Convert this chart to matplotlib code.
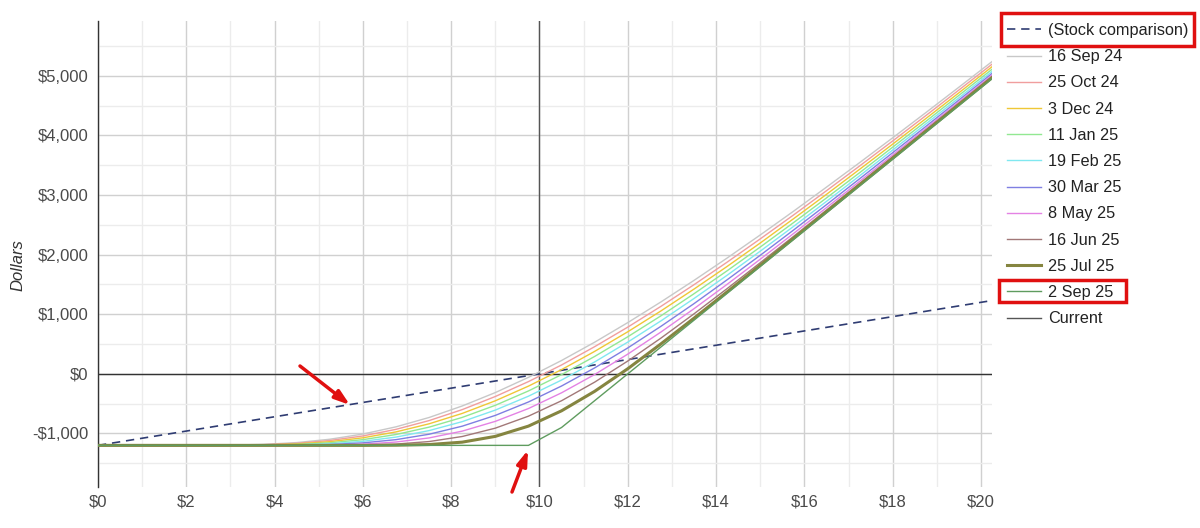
import matplotlib
matplotlib.use("Agg")
import matplotlib.pyplot as plt
from matplotlib.patches import Rectangle
from matplotlib.ticker import MultipleLocator, FuncFormatter

plt.rcParams['font.family'] = ['Liberation Sans', 'DejaVu Sans']

# ---- data ----
prices = [0, 0.75, 1.5, 2.25, 3, 3.75, 4.5, 5.25, 6, 6.75, 7.5, 8.25, 9, 9.75,
          10.5, 11.25, 12, 12.75, 13.5, 14.25, 15, 15.75, 16.5, 17.25, 18, 18.75, 19.5, 20.25]

stock_x = [0, 20.25]
stock_y = [-1200, 1230]

labels = ["16 Sep 24", "25 Oct 24", "3 Dec 24", "11 Jan 25", "19 Feb 25",
          "30 Mar 25", "8 May 25", "16 Jun 25", "25 Jul 25", "2 Sep 25"]

sep16_24 = [-1200, -1200, -1200, -1200, -1196, -1183, -1153, -1097, -1010, -889, -732, -539, -314, -59,
            224, 531, 860, 1206, 1568, 1943, 2330, 2726, 3132, 3543, 3960, 4382, 4809, 5239]
oct25_24 = [-1200, -1200, -1200, -1200, -1197, -1188, -1165, -1118, -1042, -931, -784, -600, -380, -130,
            149, 456, 784, 1132, 1496, 1874, 2264, 2663, 3072, 3487, 3907, 4332, 4762, 5195]
dec3_24 = [-1200, -1200, -1200, -1200, -1199, -1193, -1175, -1138, -1073, -974, -838, -664, -452, -206,
           71, 377, 706, 1055, 1422, 1802, 2195, 2600, 3011, 3431, 3854, 4282, 4715, 5152]
jan11_25 = [-1200, -1200, -1200, -1200, -1199, -1196, -1185, -1157, -1104, -1018, -894, -731, -528, -287,
            -13, 292, 622, 973, 1344, 1729, 2127, 2535, 2951, 3374, 3803, 4235, 4672, 5110]
feb19_25 = [-1200, -1200, -1200, -1200, -1200, -1198, -1192, -1173, -1132, -1061, -952, -802, -608, -375,
            -104, 200, 533, 888, 1264, 1654, 2058, 2471, 2893, 3322, 3755, 4192, 4631, 5073]
mar30_25 = [-1200, -1200, -1200, -1200, -1200, -1200, -1196, -1186, -1158, -1104, -1013, -878, -697, -472,
            -204, 100, 435, 797, 1178, 1578, 1989, 2410, 2838, 3272, 3710, 4150, 4594, 5040]
may8_25 = [-1200, -1200, -1200, -1200, -1200, -1200, -1199, -1195, -1180, -1144, -1075, -961, -797, -582,
           -318, -11, 331, 701, 1093, 1502, 1923, 2352, 2788, 3229, 3671, 4117, 4564, 5012]
jun16_25 = [-1200, -1200, -1200, -1200, -1200, -1200, -1200, -1200, -1195, -1178, -1136, -1051, -911, -710,
            -451, -139, 215, 599, 1007, 1430, 1864, 2303, 2747, 3194, 3641, 4090, 4539, 4989]
jul25_25 = [-1200, -1200, -1200, -1200, -1200, -1200, -1200, -1200, -1200, -1197, -1186, -1146, -1049, -877,
            -620, -293, 86, 502, 934, 1375, 1822, 2270, 2719, 3170, 3619, 4069, 4519, 4969]
sep2_25 = [-1200, -1200, -1200, -1200, -1200, -1200, -1200, -1200, -1200, -1200, -1200, -1200, -1200, -1200,
           -900, -450, 0, 450, 900, 1350, 1800, 2250, 2700, 3150, 3600, 4050, 4500, 4950]

series = [sep16_24, oct25_24, dec3_24, jan11_25, feb19_25, mar30_25, may8_25, jun16_25, jul25_25, sep2_25]
colors = ["#c8c8c8", "#f09e9e", "#efc736", "#92e892", "#80e8f0",
          "#7f7fe2", "#e482e4", "#a27878", "#858540", "#5f9c5f"]
widths = [1, 1, 1, 1, 1, 1, 1, 1, 2.2, 1]

current_price = 10
x_ticks = [0, 2, 4, 6, 8, 10, 12, 14, 16, 18, 20]
y_ticks = [-1000, 0, 1000, 2000, 3000, 4000, 5000]

# ---- figure ----
W, H = 1200, 528
fig = plt.figure(figsize=(W / 100, H / 100), dpi=100)
ax = fig.add_axes([98 / W, 1 - 486.5 / H, (992 - 98) / W, (486.5 - 21) / H])

ax.set_xlim(0, 20.25)
ax.set_ylim(-1890, 5920)

ax.xaxis.set_major_locator(MultipleLocator(2))
ax.xaxis.set_minor_locator(MultipleLocator(1))
ax.yaxis.set_major_locator(MultipleLocator(1000))
ax.yaxis.set_minor_locator(MultipleLocator(500))
ax.grid(which='major', color='#d0d0d0', lw=1)
ax.grid(which='minor', color='#ececec', lw=1)
ax.set_axisbelow(True)

def money(v, pos=None):
    v = int(round(v))
    return ("-$" if v < 0 else "$") + f"{abs(v):,}"

ax.set_xticks(x_ticks)
ax.set_yticks(y_ticks)
ax.xaxis.set_major_formatter(FuncFormatter(money))
ax.yaxis.set_major_formatter(FuncFormatter(money))
ax.tick_params(which='both', length=0, labelsize=12, labelcolor='#4a4a4a')
ax.tick_params(axis='x', pad=6)
ax.tick_params(axis='y', pad=7)

for s in ['top', 'right', 'bottom']:
    ax.spines[s].set_visible(False)
ax.spines['left'].set_color('#333333')
ax.spines['left'].set_linewidth(1)

ax.axhline(0, color='#333333', lw=1, zorder=2)

handles = []
h, = ax.plot(stock_x, stock_y, color='#2f3c72', lw=1.2, ls=(0, (5, 3.5)), label="(Stock comparison)", zorder=3)
handles.append(h)
for vals, lab, c, w in zip(series, labels, colors, widths):
    h, = ax.plot(prices, vals, color=c, lw=w, label=lab, zorder=3)
    handles.append(h)
h = ax.axvline(current_price, color='#555555', lw=1, label="Current", zorder=2)
handles.append(h)

ax.set_ylabel("Dollars", fontsize=12, style='italic', color='#333333')
ax.yaxis.set_label_coords((25 - 98) / 894, (486.5 - 265) / 465.5)

leg = fig.legend(handles=handles, loc='upper left', bbox_to_anchor=(1007 / W, 1 - 23 / H),
                 frameon=False, fontsize=11.7, labelspacing=0.69, handlelength=2.1,
                 handletextpad=0.45, borderpad=0, borderaxespad=0)
for t in leg.get_texts():
    t.set_color('#222222')

# ---- red annotations ----
def fig_rect(x0, y0, x1, y1):
    fig.add_artist(Rectangle((x0 / W, 1 - y1 / H), (x1 - x0) / W, (y1 - y0) / H,
                             transform=fig.transFigure, fill=False, ec='#e01010', lw=2.5))

fig_rect(1001, 13, 1194, 46)
fig_rect(999, 280, 1126, 302)

def fig_arrow(x0, y0, x1, y1):
    ax.annotate("", xy=(x1 / W, 1 - y1 / H), xycoords='figure fraction',
                xytext=(x0 / W, 1 - y0 / H), textcoords='figure fraction',
                arrowprops=dict(arrowstyle='-|>,head_length=0.9,head_width=0.3',
                                color='#e01010', lw=2.5, shrinkA=0, shrinkB=0))

fig_arrow(300, 366, 350, 405)
fig_arrow(512, 492, 528, 450)

fig.savefig("out.png", dpi=100)
